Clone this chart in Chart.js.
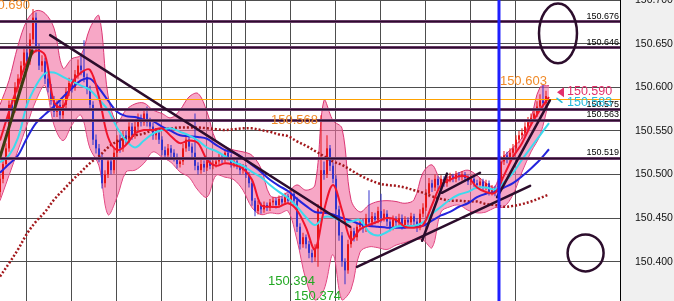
<!DOCTYPE html>
<html>
<head>
<meta charset="utf-8">
<script src="https://cdn.jsdelivr.net/npm/chart.js@4.4.1/dist/chart.umd.min.js"></script>
<style>
  html, body { margin: 0; padding: 0; background: #fff; }
  #wrap { width: 674px; height: 301px; position: relative; }
</style>
</head>
<body>
<div id="wrap"><canvas id="chart"></canvas></div>
<script>
// USD/JPY short-term candles with moving averages, envelope and drawn levels

const candleOpen = [
  150.480,150.495,150.512,150.530,150.580,150.575,150.600,150.610,150.625,150.640,
  150.630,150.655,150.680,150.645,150.625,150.630,150.610,150.600,150.585,150.572,
  150.580,150.568,150.580,150.595,150.605,150.600,150.615,150.625,150.620,150.612,
  150.598,150.580,150.540,150.530,150.520,150.490,150.500,150.515,150.505,150.525,
  150.540,150.530,150.545,150.540,150.555,150.545,150.555,150.565,150.560,150.570,
  150.560,150.555,150.545,150.548,150.540,150.528,150.522,150.530,150.525,150.520,
  150.512,150.515,150.530,150.540,150.532,150.525,150.510,150.505,150.512,150.508,
  150.515,150.510,150.512,150.515,150.520,150.518,150.525,150.520,150.512,150.515,
  150.510,150.505,150.508,150.500,150.490,150.470,150.458,150.465,150.460,150.465,
  150.462,150.468,150.470,150.465,150.472,150.468,150.475,150.470,150.478,150.470,
  150.440,150.420,150.428,150.420,150.410,150.405,150.415,150.460,150.505,150.500,
  150.530,150.510,150.495,150.460,150.430,150.400,150.390,150.420,150.435,150.428,
  150.440,150.445,150.438,150.450,150.445,150.452,150.448,150.458,150.450,150.455,
  150.446,150.440,150.448,150.445,150.450,150.442,150.448,150.445,150.452,150.446,
  150.440,150.455,150.462,150.478,150.490,150.485,150.495,150.488,150.495,150.490,
  150.495,150.498,150.495,150.500,150.497,150.500,150.496,150.492,150.495,150.490,
  150.488,150.492,150.486,150.490,150.480,150.484,150.480,150.487,150.515,150.522,
  150.518,150.525,150.530,150.540,150.545,150.548,150.555,150.560,150.565,150.570,
  150.578,150.585,150.582
];
const candleHigh = [
  150.500,150.516,150.536,150.585,150.586,150.606,150.615,150.630,150.646,150.648,
  150.662,150.690,150.686,150.650,150.637,150.634,150.615,150.604,150.590,150.585,
  150.584,150.586,150.600,150.611,150.610,150.620,150.632,150.636,150.654,150.616,
  150.602,150.584,150.546,150.535,150.524,150.505,150.520,150.519,150.530,150.545,
  150.546,150.550,150.550,150.560,150.559,150.561,150.570,150.569,150.576,150.578,
  150.565,150.559,150.553,150.552,150.544,150.532,150.535,150.534,150.529,150.524,
  150.520,150.535,150.546,150.545,150.536,150.570,150.514,150.517,150.516,150.519,
  150.518,150.516,150.519,150.524,150.523,150.529,150.528,150.523,150.519,150.518,
  150.513,150.512,150.511,150.503,150.494,150.473,150.470,150.468,150.469,150.468,
  150.472,150.474,150.473,150.476,150.475,150.479,150.478,150.483,150.481,150.474,
  150.444,150.433,150.431,150.424,150.414,150.420,150.466,150.568,150.515,150.545,
  150.534,150.514,150.499,150.464,150.434,150.404,150.425,150.440,150.439,150.445,
  150.450,150.449,150.455,150.482,150.457,150.456,150.463,150.478,150.460,150.459,
  150.450,150.453,150.452,150.455,150.454,150.452,150.451,150.456,150.455,150.450,
  150.460,150.467,150.483,150.496,150.494,150.500,150.498,150.499,150.498,150.499,
  150.502,150.501,150.504,150.503,150.504,150.503,150.499,150.499,150.498,150.494,
  150.496,150.495,150.494,150.493,150.488,150.487,150.491,150.521,150.527,150.526,
  150.530,150.535,150.545,150.550,150.553,150.560,150.566,150.570,150.576,150.584,
  150.592,150.603,150.596
];
const candleLow = [
  150.474,150.490,150.508,150.526,150.568,150.571,150.594,150.604,150.620,150.624,
  150.626,150.650,150.640,150.620,150.618,150.604,150.594,150.580,150.566,150.566,
  150.562,150.564,150.576,150.590,150.594,150.596,150.610,150.614,150.606,150.592,
  150.574,150.534,150.524,150.514,150.484,150.485,150.496,150.500,150.501,150.520,
  150.525,150.526,150.534,150.536,150.540,150.541,150.551,150.555,150.556,150.555,
  150.550,150.540,150.540,150.535,150.522,150.517,150.518,150.520,150.515,150.507,
  150.508,150.511,150.526,150.527,150.520,150.505,150.500,150.501,150.503,150.504,
  150.506,150.506,150.508,150.511,150.513,150.514,150.516,150.508,150.508,150.506,
  150.500,150.501,150.496,150.485,150.464,150.452,150.454,150.455,150.456,150.458,
  150.458,150.464,150.461,150.462,150.464,150.465,150.466,150.467,150.465,150.434,
  150.414,150.416,150.415,150.404,150.399,150.400,150.394,150.456,150.494,150.496,
  150.504,150.490,150.454,150.424,150.394,150.374,150.386,150.416,150.423,150.424,
  150.436,150.433,150.434,150.440,150.441,150.443,150.444,150.445,150.446,150.441,
  150.435,150.436,150.440,150.441,150.437,150.438,150.440,150.441,150.441,150.434,
  150.436,150.451,150.458,150.474,150.480,150.481,150.483,150.484,150.486,150.486,
  150.491,150.491,150.491,150.493,150.493,150.492,150.488,150.488,150.486,150.484,
  150.484,150.482,150.482,150.476,150.476,150.475,150.476,150.483,150.511,150.513,
  150.514,150.521,150.526,150.536,150.541,150.544,150.551,150.556,150.561,150.566,
  150.574,150.577,150.578
];
const candleClose = [
  150.495,150.512,150.530,150.580,150.575,150.600,150.610,150.625,150.640,150.630,
  150.655,150.680,150.645,150.625,150.630,150.610,150.600,150.585,150.572,150.580,
  150.568,150.580,150.595,150.605,150.600,150.615,150.625,150.620,150.612,150.598,
  150.580,150.540,150.530,150.520,150.490,150.500,150.515,150.505,150.525,150.540,
  150.530,150.545,150.540,150.555,150.545,150.555,150.565,150.560,150.570,150.560,
  150.555,150.545,150.548,150.540,150.528,150.522,150.530,150.525,150.520,150.512,
  150.515,150.530,150.540,150.532,150.525,150.510,150.505,150.512,150.508,150.515,
  150.510,150.512,150.515,150.520,150.518,150.525,150.520,150.512,150.515,150.510,
  150.505,150.508,150.500,150.490,150.470,150.458,150.465,150.460,150.465,150.462,
  150.468,150.470,150.465,150.472,150.468,150.475,150.470,150.478,150.470,150.440,
  150.420,150.428,150.420,150.410,150.405,150.415,150.460,150.505,150.500,150.530,
  150.510,150.495,150.460,150.430,150.400,150.390,150.420,150.435,150.428,150.440,
  150.445,150.438,150.450,150.445,150.452,150.448,150.458,150.450,150.455,150.446,
  150.440,150.448,150.445,150.450,150.442,150.448,150.445,150.452,150.446,150.440,
  150.455,150.462,150.478,150.490,150.485,150.495,150.488,150.495,150.490,150.495,
  150.498,150.495,150.500,150.497,150.500,150.496,150.492,150.495,150.490,150.488,
  150.492,150.486,150.490,150.480,150.484,150.480,150.487,150.515,150.522,150.518,
  150.525,150.530,150.540,150.545,150.548,150.555,150.560,150.565,150.570,150.578,
  150.585,150.582,150.590
];

const lineIdx = [
  0,3,6,9,12,15,18,21,24,27,30,33,36,39,42,45,48,51,54,57,
  60,63,66,69,72,75,78,81,84,87,90,93,96,99,102,105,108,111,114,117,
  120,123,126,129,132,135,138,141,144,147,150,153,156,159,162,165,168,171,174,177,
  180,183
];
const maShort = [
  150.539,150.572,150.602,150.629,150.642,150.637,150.583,150.577,150.605,150.617,
  150.620,150.589,150.543,150.528,150.534,150.547,150.551,150.551,150.553,150.544,
  150.536,150.539,150.536,150.517,150.510,150.513,150.511,150.507,150.494,150.465,
  150.463,150.463,150.467,150.459,150.439,150.414,150.459,150.488,150.459,150.425,
  150.437,150.442,150.446,150.450,150.448,150.440,150.439,150.442,150.465,150.488,
  150.494,150.498,150.497,150.485,150.480,150.479,150.499,150.520,150.536,150.557,
  150.574,150.589
];
const maMid = [
  150.514,150.522,150.542,150.580,150.602,150.616,150.617,150.612,150.607,150.602,
  150.597,150.586,150.574,150.554,150.539,150.531,150.539,150.547,150.551,150.553,
  150.549,150.545,150.539,150.531,150.527,150.521,150.514,150.510,150.503,150.497,
  150.488,150.480,150.473,150.463,150.451,150.442,150.451,150.451,150.446,150.446,
  150.448,150.434,150.430,150.434,150.440,150.441,150.441,150.445,150.455,150.463,
  150.471,150.477,150.480,150.485,150.485,150.483,150.491,150.502,150.517,150.531,
  150.545,150.559
];
const maLong = [
  150.502,150.512,150.522,150.542,150.559,150.569,150.578,150.589,150.599,150.608,
  150.610,150.599,150.585,150.572,150.567,150.566,150.563,150.561,150.555,150.550,
  150.545,150.544,150.543,150.541,150.534,150.528,150.525,150.519,150.511,150.503,
  150.494,150.487,150.481,150.472,150.464,150.457,150.456,150.454,150.450,150.447,
  150.443,150.441,150.440,150.439,150.439,150.439,150.440,150.441,150.447,150.453,
  150.457,150.463,150.467,150.474,150.478,150.480,150.485,150.490,150.498,150.507,
  150.517,150.529
];
const maTrend = [
  150.383,150.398,150.414,150.432,150.446,150.457,150.471,150.482,150.493,150.503,
  150.513,150.521,150.531,150.538,150.542,150.545,150.547,150.551,150.552,150.553,
  150.554,150.554,150.554,150.553,150.552,150.551,150.552,150.553,150.553,150.551,
  150.549,150.546,150.544,150.538,150.533,150.527,150.521,150.515,150.511,150.505,
  150.499,150.494,150.490,150.488,150.487,150.485,150.482,150.479,150.475,150.472,
  150.470,150.470,150.469,150.469,150.466,150.465,150.463,150.464,150.466,150.469,
  150.473,150.477
];
const bandUpper = [
  150.580,150.608,150.648,150.677,150.688,150.685,150.668,150.622,150.633,150.637,
  150.668,150.682,150.591,150.560,150.574,150.581,150.582,150.574,150.570,150.565,
  150.574,150.589,150.593,150.572,150.539,150.532,150.528,150.526,150.522,150.507,
  150.476,150.474,150.480,150.488,150.482,150.488,150.585,150.562,150.553,150.471,
  150.457,150.465,150.469,150.470,150.469,150.467,150.471,150.502,150.511,150.494,
  150.498,150.502,150.505,150.499,150.490,150.486,150.520,150.531,150.542,150.565,
  150.600,150.602
];
const bandLower = [
  150.470,150.499,150.528,150.557,150.585,150.602,150.557,150.539,150.557,150.568,
  150.530,150.510,150.454,150.474,150.503,150.505,150.513,150.526,150.520,150.514,
  150.503,150.497,150.482,150.474,150.499,150.497,150.494,150.482,150.462,150.454,
  150.456,150.455,150.458,150.425,150.379,150.356,150.368,150.408,150.356,150.368,
  150.411,150.417,150.416,150.414,150.419,150.422,150.425,150.425,150.416,150.457,
  150.463,150.465,150.459,150.456,150.457,150.462,150.463,150.477,150.503,150.526,
  150.545,150.585
];

// horizontal levels drawn by the trader
const levelPrices = [150.676, 150.646, 150.575, 150.563, 150.519];
const markPrice = 150.587;
const sessionIdx = 166.33;
const gridIdx = [8.67, 23.67, 38.67, 53.67, 68.67, 70.67, 77.33, 82, 97, 112, 127, 142, 157, 171.67];

// trend lines: [idx1, price1, idx2, price2]
const trendLines = [
  [16.7, 150.660, 116.7, 150.440],
  [119, 150.394, 176.7, 150.487],
  [140.7, 150.424, 149, 150.501],
  [147.3, 150.479, 160, 150.502],
  [165.7, 150.474, 183.3, 150.585]
];
const supportLine = [0, 150.520, 10.7, 150.642];

// marked zones: [idx, price, idx radius, price radius]
const zones = [
  [186, 150.662, 6.33, 0.0343],
  [195.2, 150.410, 6, 0.0212]
];

// high / low tags
const tagText = ['150.690', '150.568', '150.603', '150.394', '150.374'];
const tagIdx = [10, 106, 182.3, 105, 113.7];
const tagPrice = [150.6905, 150.562, 150.603, 150.385, 150.367];

// quote tags at the right of the last bar
const quoteText = ['150.590', '150.583'];
const quoteIdx = [189, 189];
const quotePrice = [150.5955, 150.583];
const quoteArrowIdx = 185.67;

const yMin = 150.3548;
const yMax = 150.7003;
const xMax = 206.67;

const FONT = '"Liberation Sans", Arial, sans-serif';
Chart.defaults.font.family = FONT;

const UP = '#e81414';
const DOWN = '#3434cc';
const candleColor = ctx => candleClose[ctx.dataIndex] >= candleOpen[ctx.dataIndex] ? UP : DOWN;

const candleBodies = candleClose.map((c, i) => ({ x: i, y: [candleOpen[i], c] }));
const candleWicks = candleHigh.map((h, i) => ({ x: i, y: [candleLow[i], h] }));
const toPoints = arr => arr.map((v, k) => ({ x: lineIdx[k], y: v }));

const tagStyle = [
    { color: '#f08a28', align: 'right', base: 'alphabetic' },
    { color: '#f08a28', align: 'right', base: 'middle' },
    { color: '#f08a28', align: 'right', base: 'alphabetic' },
    { color: '#22a822', align: 'right', base: 'top' },
    { color: '#22a822', align: 'right', base: 'top' }
];
const quoteColor = ['#e3306c', '#26bcdc'];

const overlayPlugin = {
    id: 'overlay',
    beforeDraw(chart) {
        const { ctx, chartArea: a, width, height } = chart;
        ctx.save();
        ctx.fillStyle = '#f0f0f0';
        ctx.fillRect(a.right, 0, width - a.right, height);
        ctx.fillStyle = '#fff';
        ctx.fillRect(a.left, a.top, a.right - a.left, a.bottom - a.top);
        ctx.restore();
    },
    afterDatasetsDraw(chart) {
        const { ctx, chartArea: a, scales } = chart;
        const px = v => scales.x.getPixelForValue(v);
        const py = v => scales.y.getPixelForValue(v);

        ctx.save();
        ctx.beginPath();
        ctx.rect(a.left, a.top, a.right - a.left, a.bottom - a.top);
        ctx.clip();

        // current price line
        ctx.strokeStyle = '#ffa200';
        ctx.lineWidth = 1;
        ctx.beginPath();
        ctx.moveTo(a.left, Math.round(py(markPrice)) + 0.5);
        ctx.lineTo(a.right, Math.round(py(markPrice)) + 0.5);
        ctx.stroke();

        // levels
        levelPrices.forEach(p => {
            const yy = Math.round(py(p)) + 0.5;
            ctx.strokeStyle = '#7a4a7a';
            ctx.lineWidth = 3;
            ctx.beginPath();
            ctx.moveTo(a.left, yy);
            ctx.lineTo(a.right, yy);
            ctx.stroke();
            ctx.strokeStyle = '#2e0c2e';
            ctx.lineWidth = 1.5;
            ctx.beginPath();
            ctx.moveTo(a.left, yy);
            ctx.lineTo(a.right, yy);
            ctx.stroke();
        });

        // trend lines
        ctx.lineCap = 'round';
        ctx.strokeStyle = '#2c0d2c';
        ctx.lineWidth = 2.5;
        trendLines.forEach(t => {
            ctx.beginPath();
            ctx.moveTo(px(t[0]), py(t[1]));
            ctx.lineTo(px(t[2]), py(t[3]));
            ctx.stroke();
        });
        ctx.strokeStyle = '#3e3c12';
        ctx.lineWidth = 3;
        ctx.beginPath();
        ctx.moveTo(px(supportLine[0]), py(supportLine[1]));
        ctx.lineTo(px(supportLine[2]), py(supportLine[3]));
        ctx.stroke();

        // session line
        ctx.strokeStyle = '#1f1fff';
        ctx.lineWidth = 3;
        ctx.beginPath();
        ctx.moveTo(px(sessionIdx), a.top);
        ctx.lineTo(px(sessionIdx), a.bottom);
        ctx.stroke();

        // zones
        ctx.strokeStyle = '#2c0d2c';
        ctx.lineWidth = 2.5;
        zones.forEach(z => {
            const cx = px(z[0]), cy = py(z[1]);
            const rx = px(z[0] + z[2]) - cx, ry = cy - py(z[1] + z[3]);
            ctx.beginPath();
            ctx.ellipse(cx, cy, rx, ry, 0, 0, Math.PI * 2);
            ctx.stroke();
        });

        // level labels
        ctx.font = '9px ' + FONT;
        ctx.fillStyle = '#000';
        ctx.textAlign = 'right';
        ctx.textBaseline = 'alphabetic';
        levelPrices.forEach(p => {
            ctx.fillText(p.toFixed(3), a.right - 1, py(p) - 2.5);
        });

        // high / low tags
        ctx.font = '13px ' + FONT;
        tagText.forEach((t, k) => {
            const s = tagStyle[k];
            ctx.fillStyle = s.color;
            ctx.textAlign = s.align;
            ctx.textBaseline = s.base;
            ctx.fillText(t, px(tagIdx[k]), py(tagPrice[k]));
        });

        // quote tags
        ctx.font = '12.5px ' + FONT;
        ctx.textAlign = 'left';
        ctx.textBaseline = 'middle';
        quoteText.forEach((t, k) => {
            ctx.fillStyle = quoteColor[k];
            ctx.fillText(t, px(quoteIdx[k]), py(quotePrice[k]));
        });
        const ax = px(quoteArrowIdx), ay = py(quotePrice[0]) + 1;
        ctx.fillStyle = quoteColor[0];
        ctx.beginPath();
        ctx.moveTo(ax, ay);
        ctx.lineTo(ax + 7, ay - 5);
        ctx.lineTo(ax + 7, ay + 5);
        ctx.closePath();
        ctx.fill();
        ctx.strokeStyle = quoteColor[1];
        ctx.lineWidth = 1.5;
        ctx.beginPath();
        ctx.moveTo(ax, ay + 6);
        ctx.lineTo(ax + 5, ay + 10);
        ctx.stroke();

        ctx.restore();
    }
};

const lineStyle = (color, width) => ({
    type: 'line',
    borderColor: color,
    borderWidth: width,
    pointRadius: 0,
    tension: 0.35,
    fill: false
});

new Chart(document.getElementById('chart'), {
    type: 'line',
    data: {
        datasets: [
            {
                ...lineStyle('#dc3674', 1),
                data: toPoints(bandUpper),
                backgroundColor: 'rgba(242, 108, 160, 0.6)',
                fill: '+1',
                order: 20
            },
            {
                ...lineStyle('#dc3674', 1),
                data: toPoints(bandLower),
                order: 20
            },
            {
                type: 'bar',
                data: candleWicks,
                backgroundColor: candleColor,
                barThickness: 1,
                grouped: false,
                inflateAmount: 0,
                order: 12
            },
            {
                type: 'bar',
                data: candleBodies,
                backgroundColor: candleColor,
                barThickness: 2,
                minBarLength: 1,
                grouped: false,
                inflateAmount: 0,
                order: 11
            },
            { ...lineStyle('#a3181c', 2.5), data: toPoints(maTrend), borderDash: [2, 2], order: 6 },
            { ...lineStyle('#2424dc', 2), data: toPoints(maLong), order: 5 },
            { ...lineStyle('#3cdaee', 2), data: toPoints(maMid), order: 4 },
            { ...lineStyle('#f0142c', 2), data: toPoints(maShort), order: 3 }
        ]
    },
    options: {
        animation: false,
        responsive: true,
        maintainAspectRatio: false,
        layout: { padding: 0 },
        plugins: {
            legend: { display: false },
            tooltip: { enabled: false },
            title: { display: false }
        },
        scales: {
            x: {
                type: 'linear',
                min: 0,
                max: xMax,
                offset: false,
                afterBuildTicks(scale) {
                    scale.ticks = gridIdx.map(v => ({ value: v }));
                },
                afterFit(scale) {
                    scale.height = 0;
                    scale.paddingLeft = 0;
                    scale.paddingRight = 0;
                },
                ticks: { display: false },
                grid: { color: '#4e4e4e', drawTicks: false, offset: false },
                border: { display: false }
            },
            y: {
                position: 'right',
                min: yMin,
                max: yMax,
                afterFit(scale) {
                    scale.width = 54;
                    scale.paddingTop = 0;
                    scale.paddingBottom = 0;
                },
                ticks: {
                    stepSize: 0.05,
                    includeBounds: false,
                    padding: 15,
                    color: '#111',
                    font: { size: 10.5 },
                    callback: v => v.toFixed(3)
                },
                grid: { color: '#4e4e4e', drawTicks: false },
                border: { display: true, color: '#000' }
            }
        }
    },
    plugins: [overlayPlugin]
});
</script>
</body>
</html>
